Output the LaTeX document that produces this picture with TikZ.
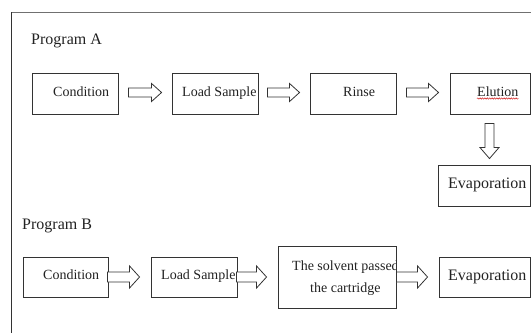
\documentclass[tikz,border=0pt]{standalone}
\usepackage{fontspec}
\setmainfont{Liberation Serif}
\usetikzlibrary{calc,decorations.pathmorphing}

\definecolor{edge}{HTML}{333333}
\definecolor{ink}{HTML}{222222}
\definecolor{framegray}{HTML}{707070}

\tikzset{
  stepbox/.style={draw=edge, line width=0.9pt, fill=white, rectangle, inner sep=0pt},
  blockarrow/.style={draw=edge, line width=0.8pt, fill=white, line join=miter},
  txt/.style={inner sep=0pt, anchor=base west, text=ink, font=\fontsize{14}{16}\selectfont},
  bigtxt/.style={txt, font=\fontsize{16}{18}\selectfont},
}

% horizontal block arrow: tail point, tip point, half head width, half shaft width
\newcommand\hblock[4]{%
  \draw[blockarrow] let \p1=#1, \p2=#2 in
    (\x1,\y1+#4) -- (\x2-10pt,\y1+#4) -- (\x2-10pt,\y1+#3) -- (\x2,\y1)
    -- (\x2-10pt,\y1-#3) -- (\x2-10pt,\y1-#4) -- (\x1,\y1-#4) -- cycle;}
% vertical block arrow pointing down: tail point, tip point
\newcommand\vblock[2]{%
  \draw[blockarrow] let \p1=#1, \p2=#2 in
    (\x1-4.5pt,\y1) -- (\x1-4.5pt,\y2+11pt) -- (\x1-9.5pt,\y2+11pt) -- (\x1,\y2)
    -- (\x1+9.5pt,\y2+11pt) -- (\x1+4.5pt,\y2+11pt) -- (\x1+4.5pt,\y1) -- cycle;}

\begin{document}
\begin{tikzpicture}[x=1pt,y=-1pt]
  \clip (0,0) rectangle (531,333);
  \fill[white] (0,0) rectangle (531,333);

  % frame
  \draw[framegray, line width=1.5pt] (11,12.5) -- (531,12.5);
  \draw[edge, line width=0.9pt] (11.5,12) -- (11.5,333);

  % Program A
  \node[bigtxt] (pa) at (31,44) {Program A};

  \node[stepbox, minimum width=86pt, minimum height=41pt] (cA) at (75,93.5) {};
  \node[stepbox, minimum width=86pt, minimum height=41pt] (lA) at (215,93.5) {};
  \node[stepbox, minimum width=86pt, minimum height=41pt] (rA) at (353,93.5) {};
  \node[stepbox, minimum width=80pt, minimum height=41pt] (eA) at (490,93.5) {};
  \node[stepbox, minimum width=92pt, minimum height=41pt] (vA) at (484,185.5) {};

  \node[txt] (tcA) at (53,96) {Condition};
  \node[txt] (tlA) at (182,96) {Load Sample};
  \node[txt] (trA) at (343,96) {Rinse};
  \node[txt] (teA) at (477,96) {Elution};
  \node[bigtxt] (tvA) at (448,188) {Evaporation};

  % spelling mark under Elution
  \draw[red!80!black, line width=0.4pt,
        decorate, decoration={snake, amplitude=0.7pt, segment length=2.4pt}]
    ($(teA.base west)+(0,2.5)$) -- ($(teA.base east)+(0,2.5)$);

  \hblock{($(cA.east)+(10,-1)$)}{($(lA.west)+(-10,-1)$)}{9pt}{4.5pt}
  \hblock{($(lA.east)+(9,-1)$)}{($(rA.west)+(-10,-1)$)}{9pt}{4.5pt}
  \hblock{($(rA.east)+(10,-1)$)}{($(eA.west)+(-11,-1)$)}{9pt}{4.5pt}
  \vblock{($(eA.south)+(-0.5,9)$)}{($(vA.north)+(5.5,-6)$)}

  % Program B
  \node[bigtxt] (pb) at (22,229) {Program B};

  \node[stepbox, minimum width=85pt, minimum height=40pt] (cB) at (65.5,277) {};
  \node[stepbox, minimum width=86pt, minimum height=40pt] (lB) at (194,277) {};
  \node[stepbox, minimum width=118pt, minimum height=62pt] (sB) at (337,277) {};
  \node[stepbox, minimum width=91pt, minimum height=40pt] (vB) at (484.5,277) {};

  \node[txt] (tcB) at (43,279) {Condition};
  \node[txt] (tlB) at (161,279) {Load Sample};
  \begin{scope}
    \clip ($(sB.north west)+(0.5,0.5)$) rectangle ($(sB.south east)+(-0.5,-0.5)$);
    \node[txt] (tsB1) at (292,270) {The solvent passed};
  \end{scope}
  \node[txt] (tsB2) at (310,292) {the cartridge};
  \node[bigtxt] (tvB) at (448,280) {Evaporation};

  \hblock{($(cB.east)+(-1,0)$)}{($(lB.west)+(-11,0)$)}{11pt}{5pt}
  \hblock{($(lB.east)+(-1,0)$)}{($(sB.west)+(-11,0)$)}{11pt}{5pt}
  \hblock{($(sB.east)+(0,0)$)}{($(vB.west)+(-11,0)$)}{11pt}{5pt}
\end{tikzpicture}
\end{document}
